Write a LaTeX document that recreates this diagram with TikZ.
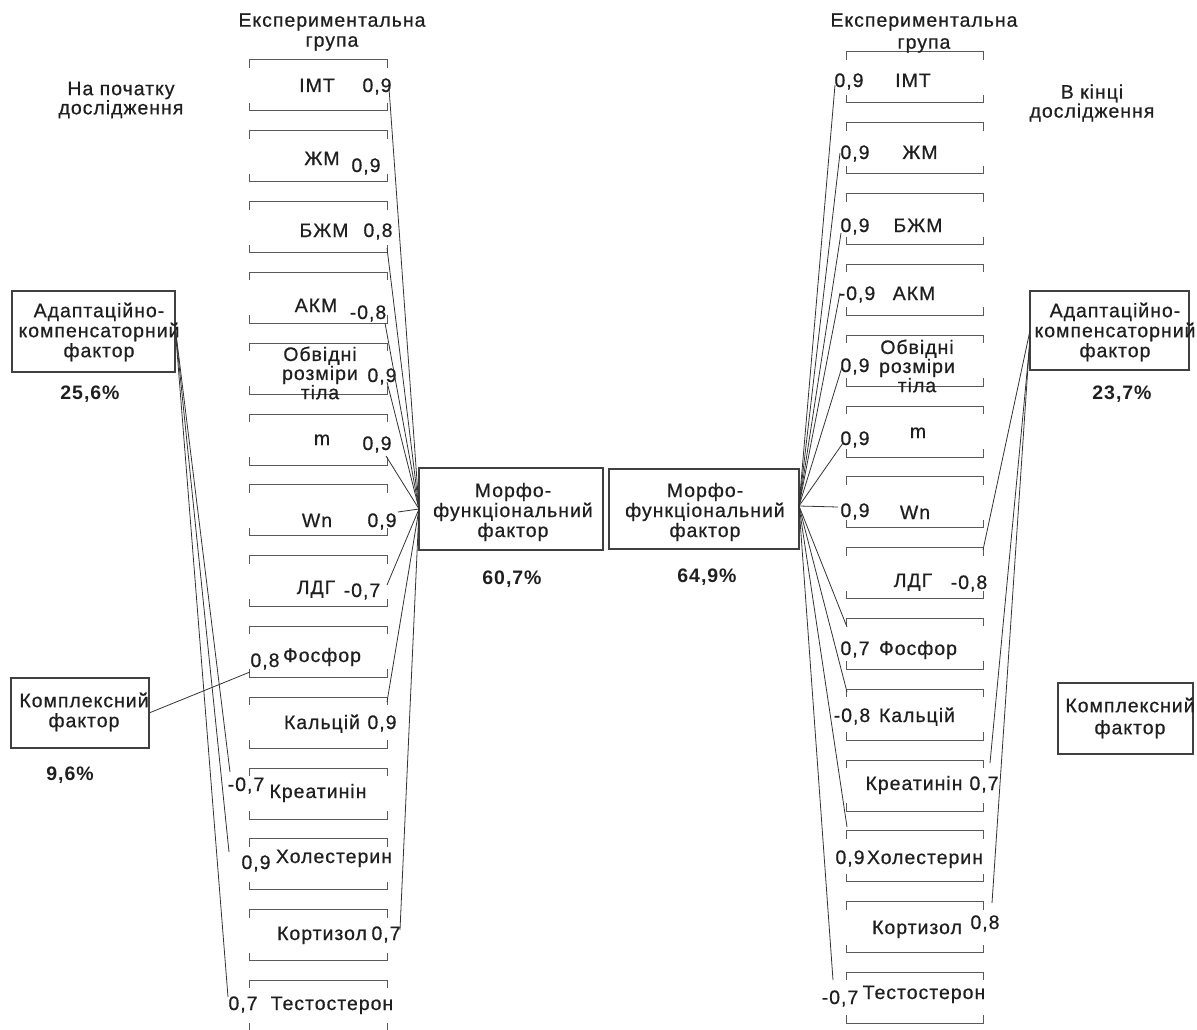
\documentclass[tikz,border=0pt]{standalone}
\usepackage{fontspec}
\setmainfont{Liberation Sans}[LetterSpace=5,UprightFeatures={FakeBold=0.6}]
\newcommand\txtsz{\fontsize{19.5}{20}\selectfont}
\newcommand\tightsz{\fontsize{19.5}{16}\selectfont}
\begin{document}
\begin{tikzpicture}[x=1pt,y=-1pt,
  every node/.style={inner sep=0pt,outer sep=0pt,text=black!88},
  lbl/.style={anchor=base,font=\txtsz},
  pct/.style={anchor=base,font=\txtsz\bfseries},
  ml/.style={align=center,font=\txtsz},
  mltight/.style={align=center,font=\tightsz},
  facbox/.style={draw=black!75,line width=1.4pt},
  brk/.style={draw=black!65,line width=1pt},
  link/.style={draw=black!80,line width=0.8pt}]
\useasboundingbox (0,0) rectangle (1197,1030);
\clip (0,0) rectangle (1197,1030);

% ---------- bracket frames of the two indicator columns ----------
\foreach \i in {0,...,13}{
  \pgfmathsetmacro\ta{60+70.8*\i}
  \pgfmathsetmacro\tb{\ta+51}
  \draw[brk] (249,\ta+8) -- (249,\ta) -- (387,\ta) -- (387,\ta+8);
  \draw[brk] (249,\tb-8) -- (249,\tb) -- (387,\tb) -- (387,\tb-8);
  \pgfmathsetmacro\ra{52+70.8*\i}
  \pgfmathsetmacro\rb{\ra+51}
  \draw[brk] (846,\ra+8) -- (846,\ra) -- (983,\ra) -- (983,\ra+8);
  \draw[brk] (846,\rb-8) -- (846,\rb) -- (983,\rb) -- (983,\rb-8);
}

% ---------- headings ----------
\node[ml] (tL) at (332,32) {Експериментальна\\група};
\node[ml,font=\fontsize{19.5}{22}\selectfont] (tR) at (924,33) {Експериментальна\\група};
\node[ml,font=\fontsize{19.5}{17}\selectfont] (startL) at (121,100) {На початку\\дослідження};
\node[ml,font=\fontsize{19.5}{17}\selectfont] (endR) at (1092,103) {В кінці\\дослідження};

% ---------- factor boxes ----------
\node[facbox,minimum width=184pt,minimum height=82pt] (mfL) at (511,509) {};
\node[ml] (mfLt) at (513,512) {Морфо-\\функціональний\\фактор};
\node[pct] (pmfL) at (512,584) {60,7\%};

\node[facbox,minimum width=190pt,minimum height=80pt] (mfR) at (704,509) {};
\node[ml] (mfRt) at (705,512) {Морфо-\\функціональний\\фактор};
\node[pct] (pmfR) at (707,582) {64,9\%};

\node[facbox,minimum width=163pt,minimum height=81pt] (adL) at (93.5,331.5) {};
\node[ml] (adLt) at (99,332) {Адаптаційно-\\компенсаторний\\фактор};
\node[pct] (padL) at (90,399) {25,6\%};

\node[facbox,minimum width=159pt,minimum height=79pt] (adR) at (1109.5,330.5) {};
\node[ml] (adRt) at (1115,332) {Адаптаційно-\\компенсаторний\\фактор};
\node[pct] (padR) at (1122,399) {23,7\%};

\node[facbox,minimum width=138pt,minimum height=70pt] (cxL) at (80,713) {};
\node[ml] (cxLt) at (84,712) {Комплексний\\фактор};
\node[pct] (pcxL) at (70,780) {9,6\%};

\node[facbox,minimum width=135pt,minimum height=71pt] (cxR) at (1125.5,718.5) {};
\node[ml,font=\fontsize{19.5}{22}\selectfont] (cxRt) at (1130,718) {Комплексний\\фактор};

% ---------- left column: indicators and loadings ----------
\node[lbl] (nL0) at (317,92) {ІМТ};        \node[lbl] (vL0) at (377,92) {0,9};
\node[lbl] (nL1) at (322,165) {ЖМ};        \node[lbl] (vL1) at (366,172) {0,9};
\node[lbl] (nL2) at (324,237) {БЖМ};       \node[lbl] (vL2) at (378,237) {0,8};
\node[lbl] (nL3) at (316,312) {АКМ};       \node[lbl] (vL3) at (368,319) {-0,8};
\node[mltight] (nL4) at (320,373) {Обвідні\\розміри\\тіла}; \node[lbl] (vL4) at (382,382) {0,9};
\node[lbl] (nL5) at (322,445) {m};         \node[lbl] (vL5) at (377,450) {0,9};
\node[lbl] (nL6) at (317,527) {Wn};        \node[lbl] (vL6) at (382,527) {0,9};
\node[lbl] (nL7) at (316,594) {ЛДГ};       \node[lbl] (vL7) at (362,597) {-0,7};
\node[lbl] (nL8) at (322,662) {Фосфор};    \node[lbl] (vL8) at (265,667) {0,8};
\node[lbl] (nL9) at (322,729) {Кальцій};   \node[lbl] (vL9) at (382,729) {0,9};
\node[lbl] (nL10) at (318,798) {Креатинін}; \node[lbl] (vL10) at (246,791) {-0,7};
\node[lbl] (nL11) at (334,863) {Холестерин}; \node[lbl] (vL11) at (256,869) {0,9};
\node[lbl] (nL12) at (322,940) {Кортизол}; \node[lbl] (vL12) at (386,940) {0,7};
\node[lbl] (nL13) at (332,1010) {Тестостерон}; \node[lbl] (vL13) at (243,1010) {0,7};

% ---------- right column: indicators and loadings ----------
\node[lbl] (nR0) at (913,87) {ІМТ};        \node[lbl] (vR0) at (849,87) {0,9};
\node[lbl] (nR1) at (920,159) {ЖМ};        \node[lbl] (vR1) at (855,159) {0,9};
\node[lbl] (nR2) at (918,232) {БЖМ};       \node[lbl] (vR2) at (855,232) {0,9};
\node[lbl] (nR3) at (914,300) {АКМ};       \node[lbl] (vR3) at (857,300) {-0,9};
\node[mltight] (nR4) at (917,366) {Обвідні\\розміри\\тіла}; \node[lbl] (vR4) at (855,372) {0,9};
\node[lbl] (nR5) at (918,438) {m};         \node[lbl] (vR5) at (855,445) {0,9};
\node[lbl] (nR6) at (915,519) {Wn};        \node[lbl] (vR6) at (855,517) {0,9};
\node[lbl] (nR7) at (913,587) {ЛДГ};       \node[lbl] (vR7) at (969,589) {-0,8};
\node[lbl] (nR8) at (918,655) {Фосфор};    \node[lbl] (vR8) at (855,655) {0,7};
\node[lbl] (nR9) at (917,722) {Кальцій};   \node[lbl] (vR9) at (852,722) {-0,8};
\node[lbl] (nR10) at (914,790) {Креатинін}; \node[lbl] (vR10) at (984,790) {0,7};
\node[lbl] (nR11) at (925,864) {Холестерин}; \node[lbl] (vR11) at (850,864) {0,9};
\node[lbl] (nR12) at (917,934) {Кортизол}; \node[lbl] (vR12) at (985,929) {0,8};
\node[lbl] (nR13) at (924,999) {Тестостерон}; \node[lbl] (vR13) at (840,1004) {-0,7};

% ---------- connector ends at the indicator frames ----------
\coordinate (eL0) at (389,88);
\coordinate (eL2) at (387,248);
\coordinate (eL3) at (385,323);
\coordinate (eL4) at (387,382);
\coordinate (eL5) at (386,456);
\coordinate (eL6) at (398,512);
\coordinate (eL7) at (387,585);
\coordinate (eL8) at (250,672);
\coordinate (eL9) at (387,702);
\coordinate (eL10) at (230,772);
\coordinate (eL11) at (229,852);
\coordinate (eL12) at (400,930);
\coordinate (eL13) at (228,997);

\coordinate (eR0) at (835,85);
\coordinate (eR1) at (840,153);
\coordinate (eR2) at (841,233);
\coordinate (eR3) at (840,293);
\coordinate (eR4) at (842,367);
\coordinate (eR5) at (843,443);
\coordinate (eR6) at (838,507);
\coordinate (eR7) at (983,550);
\coordinate (eR8) at (847,627);
\coordinate (eR9) at (847,692);
\coordinate (eR10) at (990,763);
\coordinate (eR11) at (847,827);
\coordinate (eR12) at (992,903);
\coordinate (eR13) at (833,980);

% ---------- loadings: start of study ----------
\foreach \k in {0,2,3,4,5,6,7,9,12}{
  \draw[link] (mfL.west) -- (eL\k);
}
\foreach \k in {10,11,13}{
  \draw[link] ([yshift=6pt]adL.east) -- (eL\k);
}
\draw[link] (cxL.east) -- (eL8);

% ---------- loadings: end of study ----------
\foreach \k in {0,1,2,3,4,5,6,8,9,11,13}{
  \draw[link] ([yshift=3pt]mfR.east) -- (eR\k);
}
\draw[link] (adR.west) -- (eR7);
\draw[link] ([yshift=-10pt]adR.west) -- (eR10);
\draw[link] ([yshift=-6pt]adR.west) -- (eR12);
\end{tikzpicture}
\end{document}
